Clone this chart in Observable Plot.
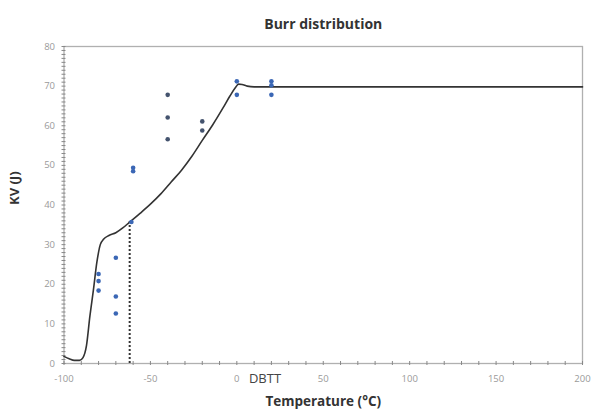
<!DOCTYPE html>
<html><head><meta charset="utf-8">
<script src="https://cdn.jsdelivr.net/npm/d3@7"></script>
<script src="https://cdn.jsdelivr.net/npm/@observablehq/plot@0.6"></script>
<style>body{margin:0;background:#fff}</style>
</head><body><div id="chart"></div>
<script>
// Fitted Burr curve
const curveT  = [-100,-97,-94,-91,-89,-87,-85,-83,-81,-79,-77,-74,-70,-66,-62,-56,-50,-44,-38,-32,-26,-20,-14,-8,-4,-1,1,3,6,10,200];
const curveKV = [1.8,1.2,0.8,0.8,1.5,4.5,12,18.5,25.5,30,31.4,32.3,33,34.2,35.7,37.9,40.2,42.8,45.8,48.8,52.3,56.3,60.2,64.5,67.5,69.5,70.5,70.4,70,69.8,69.8];
// Measured Charpy points
const pointT  = [-80,-80,-80,-70,-70,-70,-61,-60,-60,-40,-40,-40,-20,-20,0,0,20,20,20];
const pointKV = [22.6,20.8,18.4,26.7,16.9,12.6,35.7,49.4,48.5,67.8,62.1,56.6,61.1,58.8,71.2,67.8,71.2,70.2,67.8];
const pointShade = ["b","b","b","b","b","b","b","b","b","d","d","d","d","d","b","b","b","b","b"];
// DBTT marker
const dbttT = [-62];
const dbttKV = [36];
const dbttLabel = "DBTT";
const dbttLabelT = 7;
// Ticks and labels
const xTicks = [-100,-50,0,50,100,150,200];
const yTicks = [0,10,20,30,40,50,60,70,80];
const xMinor = d3.range(-100,201,10);
const yMinor = d3.range(0,81,1);
const title = "Burr distribution";
const xLabel = "Temperature (°C)";
const yLabel = "KV (J)";

const curve = curveT.map((t,i)=>({t, kv: curveKV[i]}));
const pts = pointT.map((t,i)=>({t, kv: pointKV[i], s: pointShade[i]}));
const dbtt = dbttT.map((t,i)=>({t, kv: dbttKV[i]}));

const chart = Plot.plot({
  width: 592, height: 413,
  marginLeft: 63.5, marginRight: 10, marginTop: 46, marginBottom: 50,
  style: {fontFamily: "'Open Sans', sans-serif", background: "#fff", overflow: "visible"},
  x: {domain: [-100, 200]},
  y: {domain: [0, 80]},
  marks: [
    Plot.frame({stroke: "#b0b0b0", strokeWidth: 1.3}),
    Plot.axisY({ticks: yMinor, tickSize: 4, dx: 2, tickFormat: () => "", stroke: "#888", label: null}),
    Plot.axisX({ticks: xMinor, tickSize: 4, dy: -2, tickFormat: () => "", stroke: "#888", label: null}),
    Plot.axisY({ticks: yTicks, tickSize: 0, tickPadding: 9, fontSize: 9.5, fill: "#9a9a9a", tickFormat: d => String(d), label: null}),
    Plot.axisX({ticks: xTicks, tickSize: 0, tickPadding: 12, fontSize: 9.5, fill: "#9a9a9a", tickFormat: d => String(d), label: null}),
    Plot.ruleX(dbtt, {x: "t", y1: 0, y2: "kv", stroke: "#333", strokeWidth: 2, strokeDasharray: "2,2"}),
    Plot.line(curve, {x: "t", y: "kv", stroke: "#333", strokeWidth: 1.6, curve: "monotone-x"}),
    Plot.dot(pts, {x: "t", y: "kv", r: 2.3, fill: d => d.s === "d" ? "#44536e" : "#3b67b5", stroke: null}),
    Plot.text([dbttLabel], {x: dbttLabelT, y: 0, dy: 15, text: d => d, textAnchor: "start", fontSize: 13, fill: "#444"}),
    Plot.text([title], {frameAnchor: "top", dy: -27, text: d => d, fontWeight: "bold", fontSize: 14, fill: "#333"}),
    Plot.text([xLabel], {frameAnchor: "bottom", dy: 42, text: d => d, fontWeight: "bold", fontSize: 13.5, fill: "#333"}),
    Plot.text([yLabel], {frameAnchor: "left", dx: -49, rotate: -90, text: d => d, fontWeight: "bold", fontSize: 13, fill: "#333"})
  ]
});
document.getElementById("chart").appendChild(chart);
</script>
</body></html>
